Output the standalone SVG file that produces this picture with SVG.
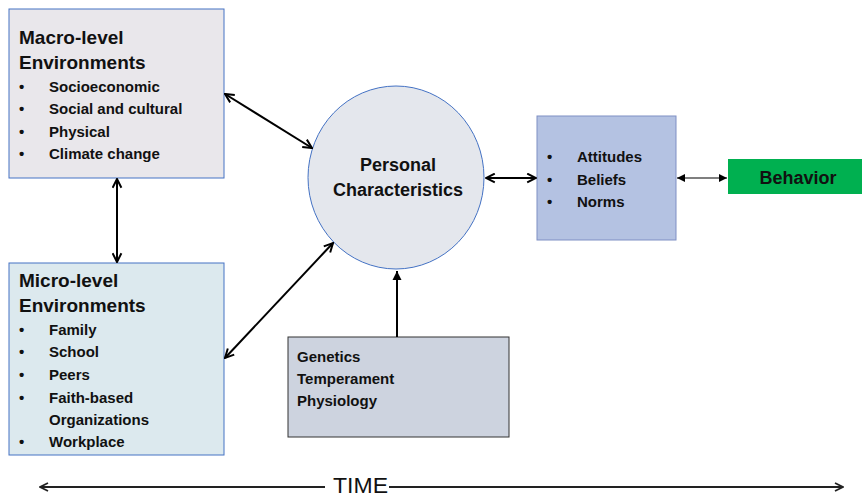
<svg xmlns="http://www.w3.org/2000/svg" width="862" height="498" viewBox="0 0 862 498">
  <style>
    text { font-family: "Liberation Sans", Arial, sans-serif; font-weight: bold; fill: #111; }
    .title { font-size: 19px; }
    .item { font-size: 15px; }
    .center { text-anchor: middle; }
    .link { stroke: #000; stroke-width: 2; fill: none; }
    .thin { stroke: #555; stroke-width: 1.3; fill: none; }
  </style>
  <defs>
    <marker id="open" viewBox="0 0 10 10" refX="9" refY="5" markerWidth="11" markerHeight="11" markerUnits="userSpaceOnUse" orient="auto-start-reverse">
      <path d="M1,1 L9,5 L1,9" fill="none" stroke="#000" stroke-width="1.8"/>
    </marker>
    <marker id="solid" viewBox="0 0 10 10" refX="10" refY="5" markerWidth="9" markerHeight="11" markerUnits="userSpaceOnUse" orient="auto-start-reverse">
      <path d="M0,0 L10,5 L0,10 z" fill="#000"/>
    </marker>
    <marker id="small" viewBox="0 0 10 10" refX="10" refY="5" markerWidth="9" markerHeight="8" markerUnits="userSpaceOnUse" orient="auto-start-reverse">
      <path d="M0,0 L10,5 L0,10 z" fill="#000"/>
    </marker>
    <marker id="time" viewBox="0 0 10 10" refX="9" refY="5" markerWidth="10" markerHeight="12" markerUnits="userSpaceOnUse" orient="auto-start-reverse">
      <path d="M1,1 L9,5 L1,9" fill="none" stroke="#222" stroke-width="1.8"/>
    </marker>
  </defs>

  <rect width="862" height="498" fill="#fff"/>

  <g id="macro">
    <rect x="9" y="9" width="215" height="169" fill="#e9e7eb" stroke="#4472c4" stroke-width="1"/>
    <text class="title" x="19" y="44">Macro-level</text>
    <text class="title" x="19" y="69">Environments</text>
    <text class="item" x="19" y="92">•</text>
    <text class="item" x="49" y="92">Socioeconomic</text>
    <text class="item" x="19" y="114">•</text>
    <text class="item" x="49" y="114">Social and cultural</text>
    <text class="item" x="19" y="137">•</text>
    <text class="item" x="49" y="137">Physical</text>
    <text class="item" x="19" y="159">•</text>
    <text class="item" x="49" y="159">Climate change</text>
  </g>

  <g id="micro">
    <rect x="9" y="263" width="215" height="192" fill="#dce9ee" stroke="#4472c4" stroke-width="1"/>
    <text class="title" x="19" y="287">Micro-level</text>
    <text class="title" x="19" y="312">Environments</text>
    <text class="item" x="19" y="335">•</text>
    <text class="item" x="49" y="335">Family</text>
    <text class="item" x="19" y="357">•</text>
    <text class="item" x="49" y="357">School</text>
    <text class="item" x="19" y="380">•</text>
    <text class="item" x="49" y="380">Peers</text>
    <text class="item" x="19" y="403">•</text>
    <text class="item" x="49" y="403">Faith-based</text>
    <text class="item" x="49" y="425">Organizations</text>
    <text class="item" x="19" y="447">•</text>
    <text class="item" x="49" y="447">Workplace</text>
  </g>

  <g id="personal">
    <ellipse cx="396" cy="177.5" rx="88" ry="91.5" fill="#e4e7ed" stroke="#4472c4" stroke-width="1"/>
    <text class="center" x="398" y="171" font-size="18">Personal</text>
    <text class="center" x="398" y="196" font-size="18">Characteristics</text>
  </g>

  <g id="attitudes">
    <rect x="537" y="116" width="139" height="124" fill="#b4c2e2" stroke="#7f8fc4" stroke-width="1"/>
    <text class="item" x="547" y="162">•</text>
    <text class="item" x="577" y="162">Attitudes</text>
    <text class="item" x="547" y="185">•</text>
    <text class="item" x="577" y="185">Beliefs</text>
    <text class="item" x="547" y="207">•</text>
    <text class="item" x="577" y="207">Norms</text>
  </g>

  <g id="behavior">
    <rect x="728" y="159" width="134" height="35" fill="#00b050"/>
    <text class="center" x="798" y="184" font-size="18">Behavior</text>
  </g>

  <g id="biology">
    <rect x="288" y="337" width="221" height="100" fill="#cdd3df" stroke="#333" stroke-width="1"/>
    <text class="item" x="297" y="362">Genetics</text>
    <text class="item" x="297" y="384">Temperament</text>
    <text class="item" x="297" y="406">Physiology</text>
  </g>

  <g id="connectors">
    <line class="link" x1="225" y1="94" x2="312" y2="148" marker-start="url(#open)" marker-end="url(#open)"/>
    <line class="link" x1="117" y1="179" x2="117" y2="262" marker-start="url(#open)" marker-end="url(#open)"/>
    <line class="link" x1="225" y1="358" x2="333" y2="243" marker-start="url(#open)" marker-end="url(#open)"/>
    <line class="link" x1="397" y1="337" x2="397" y2="271" marker-end="url(#solid)"/>
    <line class="link" x1="486" y1="178" x2="536" y2="178" marker-start="url(#open)" marker-end="url(#open)"/>
    <line class="thin" x1="677" y1="178" x2="727" y2="178" marker-start="url(#small)" marker-end="url(#small)"/>
  </g>

  <g id="timeline">
    <line x1="40" y1="487" x2="325" y2="487" stroke="#222" stroke-width="2" marker-start="url(#time)"/>
    <line x1="389" y1="487" x2="843" y2="487" stroke="#222" stroke-width="2" marker-end="url(#time)"/>
    <text x="333" y="493" font-size="22" style="font-weight:normal" fill="#222" textLength="55" lengthAdjust="spacingAndGlyphs">TIME</text>
  </g>
</svg>
